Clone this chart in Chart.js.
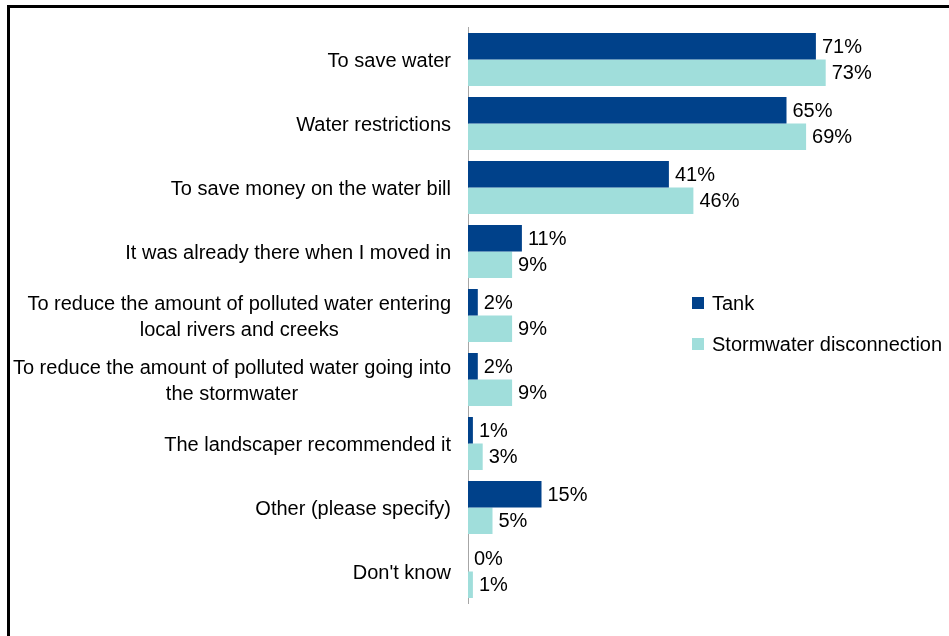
<!DOCTYPE html>
<html>
<head>
<meta charset="utf-8">
<script src="https://cdn.jsdelivr.net/npm/chart.js@4.4.1/dist/chart.umd.min.js"></script>
<style>
  html, body { margin: 0; padding: 0; background: #fff; }
  #wrap { position: relative; width: 949px; height: 636px; overflow: hidden; }
  #frame {
    position: absolute; left: 7px; top: 5px; width: 1000px; height: 700px;
    border-left: 3px solid #000; border-top: 3px solid #000; pointer-events: none;
  }
</style>
</head>
<body>
<div id="wrap">
  <canvas id="reasonsChart" width="949" height="636"></canvas>
  <div id="frame"></div>
</div>
<script>
// categories (multi-line labels as arrays)
var categories = [
  "To save water",
  "Water restrictions",
  "To save money on the water bill",
  "It was already there when I moved in",
  ["To reduce the amount of polluted water entering", "local rivers and creeks"],
  ["To reduce the amount of polluted water going into", "the stormwater"],
  "The landscaper recommended it",
  "Other (please specify)",
  "Don't know"
];
var seriesNames = ["Tank", "Stormwater disconnection"];
var tankValues = [71, 65, 41, 11, 2, 2, 1, 15, 0];
var stormValues = [73, 69, 46, 9, 9, 9, 3, 5, 1];

var FONT = "'Liberation Sans', Arial, sans-serif";
var TANK_COLOR = "#00418a";
var STORM_COLOR = "#a0dedb";

// category names: block right-aligned on the axis, lines centred inside the block
var categoryLabels = {
  id: "categoryLabels",
  afterDraw: function(chart) {
    var ctx = chart.ctx;
    var scale = chart.scales.y;
    ctx.save();
    ctx.font = "20px " + FONT;
    ctx.fillStyle = "#000";
    ctx.textAlign = "center";
    ctx.textBaseline = "middle";
    chart.data.labels.forEach(function(lbl, i) {
      var lines = [].concat(lbl);
      var block = Math.max.apply(null, lines.map(function(l) { return ctx.measureText(l).width; }));
      var cx = scale.right - 17 - block / 2;
      var y = scale.getPixelForValue(i) + 2;
      lines.forEach(function(line, k) {
        ctx.fillText(line, cx, y + (k - (lines.length - 1) / 2) * 26.5);
      });
    });
    ctx.restore();
  }
};

// draws the percentage next to each bar
var valueLabels = {
  id: "valueLabels",
  afterDatasetsDraw: function(chart) {
    var ctx = chart.ctx;
    ctx.save();
    ctx.font = "20px " + FONT;
    ctx.fillStyle = "#000";
    ctx.textAlign = "left";
    ctx.textBaseline = "middle";
    chart.data.datasets.forEach(function(ds, i) {
      var meta = chart.getDatasetMeta(i);
      meta.data.forEach(function(bar, j) {
        ctx.fillText(ds.data[j] + "%", bar.x + 6, bar.y + 1);
      });
    });
    ctx.restore();
  }
};

// legend sitting inside the plot on the right
var sideLegend = {
  id: "sideLegend",
  afterDraw: function(chart) {
    var ctx = chart.ctx;
    ctx.save();
    ctx.font = "20px " + FONT;
    ctx.textAlign = "left";
    ctx.textBaseline = "middle";
    chart.data.datasets.forEach(function(ds, i) {
      var y = 303 + i * 41;
      ctx.fillStyle = ds.backgroundColor;
      ctx.fillRect(692, y - 6, 12, 12);
      ctx.fillStyle = "#000";
      ctx.fillText(ds.label, 712, y + 1);
    });
    ctx.restore();
  }
};

var ctx = document.getElementById("reasonsChart").getContext("2d");
var reasonsChart = new Chart(ctx, {
  type: "bar",
  data: {
    labels: categories,
    datasets: [{
      label: seriesNames[0],
      data: tankValues,
      backgroundColor: TANK_COLOR,
      borderWidth: 0
    }, {
      label: seriesNames[1],
      data: stormValues,
      backgroundColor: STORM_COLOR,
      borderWidth: 0
    }]
  },
  options: {
    indexAxis: "y",
    responsive: false,
    animation: false,
    categoryPercentage: 0.83,
    barPercentage: 1,
    layout: {
      padding: { top: 27.5, bottom: 32.5, left: 0, right: 89 }
    },
    scales: {
      x: {
        display: false,
        min: 0,
        max: 80
      },
      y: {
        grid: { display: false },
        border: { display: true, color: "#a6a6a6", width: 1 },
        afterFit: function(scale) { scale.width = 468; },
        ticks: { display: false }
      }
    },
    plugins: {
      legend: { display: false },
      tooltip: { enabled: false }
    }
  },
  plugins: [valueLabels, categoryLabels, sideLegend]
});
</script>
</body>
</html>
